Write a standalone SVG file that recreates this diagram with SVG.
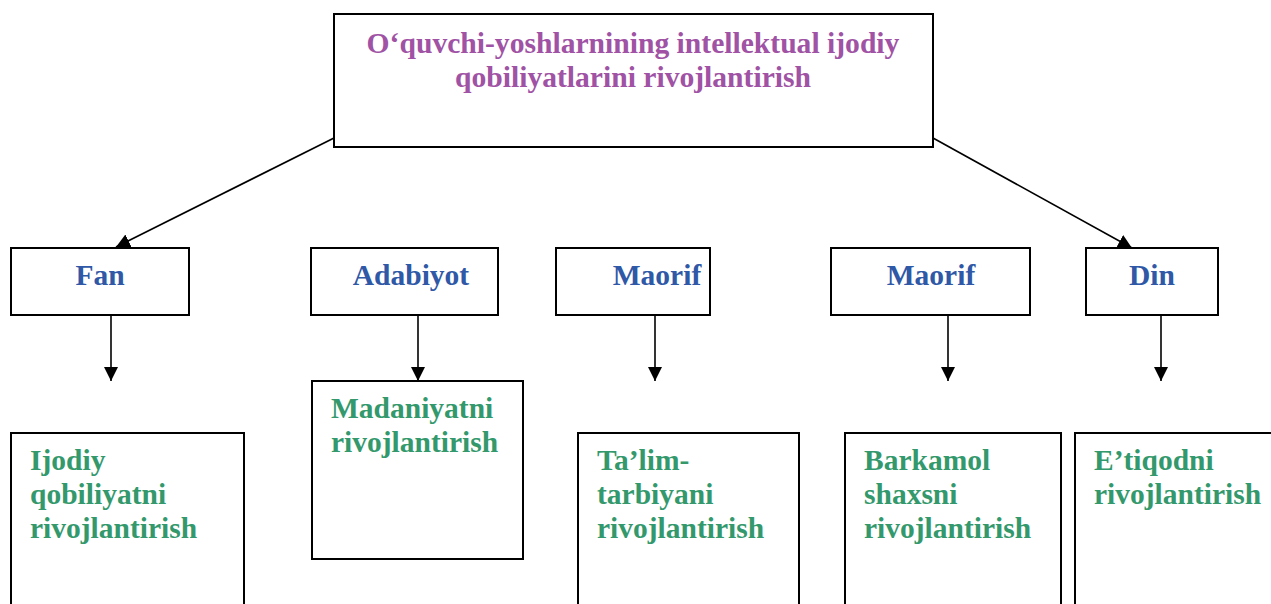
<svg xmlns="http://www.w3.org/2000/svg" width="1271" height="604" viewBox="0 0 1271 604">
<style>
.box{fill:#fff;stroke:#000;stroke-width:2}
.t{font-family:"Liberation Serif","Times New Roman",serif;font-weight:bold}
.title{fill:#A052A4;font-size:29.6px}
.cat{fill:#2F58A6;font-size:29.5px}
.res{fill:#33996C;font-size:29.5px}
.conn{stroke:#000;stroke-width:1.6;fill:none}
</style>
<defs>
<marker id="ah2" viewBox="0 0 14 14" refX="14" refY="7" markerWidth="14" markerHeight="14" markerUnits="userSpaceOnUse" orient="auto">
<path d="M0,0 L14,7 L0,14 Z" fill="#000"/>
</marker>
</defs>
<rect width="1271" height="604" fill="#fff"/>
<g id="connectors">
<line class="conn" x1="334" y1="138" x2="116" y2="247" marker-end="url(#ah2)"/>
<line class="conn" x1="933" y1="138" x2="1132" y2="248" marker-end="url(#ah2)"/>
<line class="conn" x1="111" y1="315" x2="111" y2="381" marker-end="url(#ah2)"/>
<line class="conn" x1="418" y1="315" x2="418" y2="381" marker-end="url(#ah2)"/>
<line class="conn" x1="655" y1="315" x2="655" y2="381" marker-end="url(#ah2)"/>
<line class="conn" x1="948" y1="315" x2="948" y2="381" marker-end="url(#ah2)"/>
<line class="conn" x1="1161" y1="315" x2="1161" y2="381" marker-end="url(#ah2)"/>
</g>
<g id="root">
<rect class="box" x="334" y="14" width="599" height="133"/>
<text class="t title" x="633" y="53" text-anchor="middle">O‘quvchi-yoshlarnining intellektual ijodiy</text>
<text class="t title" x="633" y="87" text-anchor="middle">qobiliyatlarini rivojlantirish</text>
</g>
<g id="fan">
<rect class="box" x="11" y="248" width="178" height="67"/>
<text class="t cat" x="100" y="285" text-anchor="middle">Fan</text>
</g>
<g id="adabiyot">
<rect class="box" x="311" y="248" width="187" height="67"/>
<text class="t cat" x="411" y="285" text-anchor="middle">Adabiyot</text>
</g>
<g id="maorif1">
<rect class="box" x="556" y="248" width="154" height="67"/>
<text class="t cat" x="657" y="285" text-anchor="middle">Maorif</text>
</g>
<g id="maorif2">
<rect class="box" x="831" y="248" width="199" height="67"/>
<text class="t cat" x="931" y="285" text-anchor="middle">Maorif</text>
</g>
<g id="din">
<rect class="box" x="1086" y="248" width="132" height="67"/>
<text class="t cat" x="1152" y="285" text-anchor="middle">Din</text>
</g>
<g id="ijodiy">
<rect class="box" x="11" y="433" width="233" height="180"/>
<text class="t res" x="30" y="470">Ijodiy</text>
<text class="t res" x="30" y="504">qobiliyatni</text>
<text class="t res" x="30" y="538">rivojlantirish</text>
</g>
<g id="madaniyat">
<rect class="box" x="312" y="381" width="211" height="178"/>
<text class="t res" x="331" y="418">Madaniyatni</text>
<text class="t res" x="331" y="452">rivojlantirish</text>
</g>
<g id="talim">
<rect class="box" x="578" y="433" width="221" height="180"/>
<text class="t res" x="597" y="470">Ta’lim-</text>
<text class="t res" x="597" y="504">tarbiyani</text>
<text class="t res" x="597" y="538">rivojlantirish</text>
</g>
<g id="barkamol">
<rect class="box" x="845" y="433" width="216" height="180"/>
<text class="t res" x="864" y="470">Barkamol</text>
<text class="t res" x="864" y="504">shaxsni</text>
<text class="t res" x="864" y="538">rivojlantirish</text>
</g>
<g id="etiqod">
<rect class="box" x="1075" y="433" width="210" height="180"/>
<text class="t res" x="1094" y="470">E’tiqodni</text>
<text class="t res" x="1094" y="504">rivojlantirish</text>
</g>
</svg>
